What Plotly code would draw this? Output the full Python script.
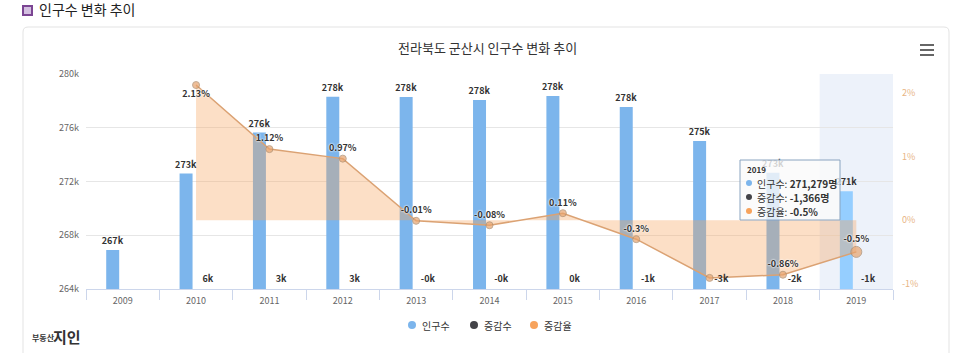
import plotly.graph_objects as go

# ---- data ----
years = [2009, 2010, 2011, 2012, 2013, 2014, 2015, 2016, 2017, 2018, 2019]
population = [266903, 272588, 275641, 278315, 278287, 278064, 278370, 277535, 275010, 272645, 271279]
change = [None, 5685, 3053, 2674, -28, -223, 306, -835, -2525, -2365, -1366]
rate = [None, 2.13, 1.12, 0.97, -0.01, -0.08, 0.11, -0.30, -0.91, -0.86, -0.50]
rate_label_shown = [False, True, True, True, True, True, True, True, False, True, True]
left_ticks = [264000, 268000, 272000, 276000, 280000]
right_ticks = [-1, 0, 1, 2]
series_names = ["인구수", "증감수", "증감율"]
chart_title = "전라북도 군산시 인구수 변화 추이"
header_title = "인구수 변화 추이"

C_BLUE = "#7cb5ec"
C_BLUE_HOVER = "#95ceff"
C_DARK = "#434348"
C_ORANGE = "#f7a35c"
FONT = "Noto Sans CJK KR"

W, H = 960, 353
ML, MR, MT, MB = 86, 67, 74, 64
PW, PH = W - ML - MR, H - MT - MB


def px(x):
    return (x - ML) / PW


def py(y):
    return (H - MB - y) / PH


fig = go.Figure()

# population bars
bar_colors = [C_BLUE] * (len(years) - 1) + [C_BLUE_HOVER]
fig.add_trace(go.Bar(
    x=years, y=population, name=series_names[0], showlegend=False,
    marker=dict(color=bar_colors, line=dict(width=0)),
    width=0.177, offset=-0.2245,
    texttemplate="%{y:.3s}", textposition="outside", constraintext="none",
    textfont=dict(size=9, color="#333", weight="bold", family=FONT),
    cliponaxis=False, yaxis="y",
))

# change labels (bars fall below the axis minimum, only labels visible)
chg_x = [y + 0.16 for y, c in zip(years, change) if c is not None]
chg_text = [f"{c / 1000:.0f}k" for c in change if c is not None]
fig.add_trace(go.Scatter(
    x=chg_x, y=[0.045] * len(chg_x), mode="text", text=chg_text,
    textposition="middle center", showlegend=False, name=series_names[1],
    textfont=dict(size=9, color="#333", weight="bold", family=FONT),
    cliponaxis=False, yaxis="y3",
))

# rate area
rx = [y for y, r in zip(years, rate) if r is not None]
ry = [r for r in rate if r is not None]
rtext = [f"{r:g}%" if s else "" for r, s in zip(rate, rate_label_shown) if r is not None]
rpos = ["bottom center" if r == max(ry) else "top center" for r in ry]
msize = [7] * (len(ry) - 1) + [11]
fig.add_trace(go.Scatter(
    x=rx, y=ry, mode="lines+markers+text", name=series_names[2], showlegend=False,
    fill="tozeroy", fillcolor="rgba(247,163,92,0.35)",
    line=dict(color="#dba273", width=1.5),
    marker=dict(size=msize, color="#e7a36d", line=dict(color="#a98868", width=1)),
    text=rtext, textposition=rpos,
    textfont=dict(size=9, color="#333", weight="bold", family=FONT,
                  shadow="0 0 2px #fff, 0 0 2px #fff"),
    cliponaxis=False, yaxis="y2",
))

shapes = []
annotations = []
# card
x0, x1, y0, y1, r = 23, 949, 27, 370, 5
path = (f"M {px(x0 + r)},{py(y0)} L {px(x1 - r)},{py(y0)} Q {px(x1)},{py(y0)} {px(x1)},{py(y0 + r)} "
        f"L {px(x1)},{py(y1)} L {px(x0)},{py(y1)} L {px(x0)},{py(y0 + r)} Q {px(x0)},{py(y0)} {px(x0 + r)},{py(y0)} Z")
shapes.append(dict(type="path", path=path, xref="paper", yref="paper",
                   line=dict(color="#e3e3e3", width=1), fillcolor="rgba(0,0,0,0)", layer="below"))
# hover band
shapes.append(dict(type="rect", xref="x", yref="paper", x0=years[-1] - 0.5, x1=years[-1] + 0.5,
                   y0=0, y1=1, fillcolor="#edf2fa", line=dict(width=0), layer="below"))
# header icon
shapes.append(dict(type="rect", xref="paper", yref="paper", x0=px(23), x1=px(32), y0=py(15), y1=py(6),
                   fillcolor="#d3bfe0", line=dict(color="#7b4593", width=2)))
# hamburger
for yy in (45, 50, 55):
    shapes.append(dict(type="line", xref="paper", yref="paper", x0=px(920), x1=px(934),
                       y0=py(yy), y1=py(yy), line=dict(color="#666", width=2)))

# legend (dots + labels)
legend_dot_x = [412, 474, 534]
for nm, col, dx in zip(series_names, [C_BLUE, C_DARK, C_ORANGE], legend_dot_x):
    shapes.append(dict(type="circle", xref="paper", yref="paper",
                       x0=px(dx - 4), x1=px(dx + 4), y0=py(329), y1=py(321),
                       fillcolor=col, line=dict(width=0)))
    annotations.append(dict(text=nm, x=px(dx + 8), y=py(325), xref="paper", yref="paper",
                            showarrow=False, xanchor="left", yanchor="middle",
                            font=dict(size=10, color="#333", family=FONT)))

annotations += [
    dict(text=chart_title, x=px(487), y=py(47), xref="paper", yref="paper", showarrow=False,
         font=dict(size=13, color="#333", family=FONT), xanchor="center", yanchor="middle"),
    dict(text=header_title, x=px(37), y=py(9), xref="paper", yref="paper", showarrow=False,
         font=dict(size=14, color="#222", family=FONT), xanchor="left", yanchor="middle"),
    dict(text="<b>부동산</b>", x=px(30), y=py(337), xref="paper", yref="paper", showarrow=False,
         font=dict(size=8, color="#333", family=FONT), xanchor="left", yanchor="middle"),
    dict(text="<b>지인</b>", x=px(51), y=py(336), xref="paper", yref="paper", showarrow=False,
         font=dict(size=15, color="#333", family=FONT), xanchor="left", yanchor="middle"),
]

# tooltip box
shapes.append(dict(type="rect", xref="paper", yref="paper", x0=px(740), x1=px(840),
                   y0=py(220), y1=py(160), fillcolor="rgba(250,250,250,0.8)",
                   line=dict(color="#8aa4c0", width=1)))
annotations.append(dict(text=f"<b>{years[-1]}</b>", x=px(745), y=py(169), xref="paper", yref="paper",
                        showarrow=False, xanchor="left", yanchor="middle",
                        font=dict(size=8, color="#333", family=FONT)))
tip_vals = [f"{population[-1]:,}명", f"{change[-1]:,}명", f"{rate[-1]:g}%"]
for i, (nm, col, val) in enumerate(zip(series_names, [C_BLUE, C_DARK, C_ORANGE], tip_vals)):
    yy = 183 + i * 14
    shapes.append(dict(type="circle", xref="paper", yref="paper",
                       x0=px(746), x1=px(752), y0=py(yy + 3), y1=py(yy - 3),
                       fillcolor=col, line=dict(width=0)))
    annotations.append(dict(text=f"{nm}: <b>{val}</b>", x=px(755), y=py(yy), xref="paper", yref="paper",
                            showarrow=False, xanchor="left", yanchor="middle",
                            font=dict(size=10, color="#333", family=FONT)))

fig.update_layout(
    width=W, height=H, margin=dict(l=ML, r=MR, t=MT, b=MB),
    paper_bgcolor="white", plot_bgcolor="white",
    font=dict(family=FONT, color="#333"),
    barmode="overlay", showlegend=False,
    xaxis=dict(range=[years[0] - 0.5, years[-1] + 0.5], tickmode="array", tickvals=years,
               ticktext=[str(y) for y in years], ticks="", showgrid=False, zeroline=False,
               showline=True, linecolor="#ccd6eb", linewidth=1,
               tickfont=dict(size=9, color="#666"), ticklabelstandoff=3,
               minor=dict(tickmode="array", tickvals=[y - 0.5 for y in years] + [years[-1] + 0.5],
                          ticks="outside", ticklen=10, tickcolor="#ccd6eb", showgrid=False)),
    yaxis=dict(range=[left_ticks[0], left_ticks[-1]], tickmode="array", tickvals=left_ticks,
               tickformat=".3s", showgrid=True, gridcolor="#e6e6e6", zeroline=False, showline=False,
               tickfont=dict(size=9, color="#666"), ticks="", ticklabelstandoff=6),
    yaxis2=dict(range=[-1.085, 2.304], overlaying="y", side="right", tickmode="array",
                tickvals=right_ticks, ticktext=[f"{t}%" for t in right_ticks],
                showgrid=False, zeroline=False, showline=False,
                tickfont=dict(size=9, color="#e8b584"), ticks="", ticklabelstandoff=8),
    yaxis3=dict(range=[0, 1], overlaying="y", visible=False, fixedrange=True),
    shapes=shapes, annotations=annotations,
    hovermode=False,
)

fig.write_html("out.html")
